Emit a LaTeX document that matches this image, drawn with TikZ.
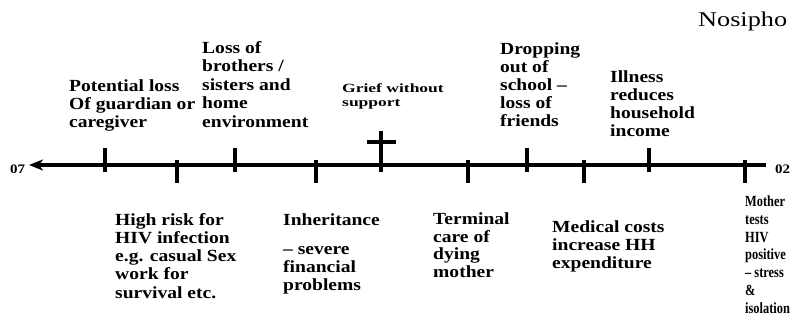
\documentclass[tikz,border=0pt]{standalone}
\usepackage{fontspec}
\setmainfont{Liberation Serif}[FakeStretch=1.15]
\newfontfamily\nosfont{Liberation Serif}[FakeStretch=1.25]
\newfontfamily\griefont{Liberation Serif}[FakeStretch=1.4]
\newfontfamily\mothfont{Liberation Serif}[FakeStretch=0.8]
\usetikzlibrary{arrows.meta}
\tikzset{
  lbl/.style={anchor=base west, inner sep=0pt, align=left,
    font=\bfseries\fontsize{17}{18}\selectfont},
  small/.style={anchor=base west, inner sep=0pt, align=left,
    font=\bfseries\fontsize{13}{14}\selectfont},
  tick/.style={line width=3.6pt},
  axis/.style={line width=4pt, -{Stealth[length=14pt,width=11pt,inset=4pt]}}
}
\begin{document}
\begin{tikzpicture}[x=1pt,y=-1pt]
\useasboundingbox (0,0) rectangle (796,324);
% axis
\coordinate (aR) at (766,165);
\coordinate (aL) at (29,165);
\draw[axis] (aR) -- (aL);
\node[small] (n07) at (10,173) {07};
\node[small] (n02) at (775,173) {02};
% upper ticks
\foreach \x/\n in {105/u1,235/u2,527/u3,649/u4}{
  \coordinate (\n) at (\x,148);
  \draw[tick] (\n) -- ++(0,24);
}
% lower ticks
\foreach \x/\n in {177/d1,316/d2,468/d3,584/d4,745/d5}{
  \coordinate (\n) at (\x,160);
  \draw[tick] (\n) -- ++(0,23);
}
% cross
\coordinate (cT) at (381,131);
\coordinate (cL) at (367,142);
\draw[tick] (cT) -- ++(0,41);
\draw[line width=3.2pt] (cL) -- ++(29,0);
% title
\node[anchor=base west, inner sep=0pt, font=\nosfont\fontsize{21}{24}\selectfont] (nos) at (698,27) {Nosipho};
% upper labels (anchor = baseline of last line)
\node[lbl] (pot) at (69,127) {Potential loss\\Of guardian or\\caregiver};
\node[lbl,font=\bfseries\fontsize{17}{18.5}\selectfont] (loss) at (202,127) {Loss of\\brothers /\\sisters and\\home\\environment};
\node[small,font=\griefont\bfseries\fontsize{12.5}{13.5}\selectfont] (grief) at (342,106) {Grief without\\support};
\node[lbl] (drop) at (500,126) {Dropping\\out of\\school –\\loss of\\friends};
\node[lbl] (ill) at (610,136) {Illness\\reduces\\household\\income};
% lower labels
\node[lbl,font=\bfseries\fontsize{17}{18.2}\selectfont] (high) at (115,298) {High risk for\\HIV infection\\e.g. casual Sex\\work for\\survival etc.};
\node[lbl] (inh) at (283,290) {Inheritance\\[11pt]– severe\\financial\\problems};
\node[lbl,font=\bfseries\fontsize{17}{17.5}\selectfont] (term) at (433,277) {Terminal\\care of\\dying\\mother};
\node[lbl] (med) at (552,268) {Medical costs\\increase HH\\expenditure};
\node[lbl,font=\mothfont\bfseries\fontsize{15.5}{17.7}\selectfont] (moth) at (745,313) {Mother\\tests\\HIV\\positive\\– stress\\\&\\isolation};
\end{tikzpicture}
\end{document}
